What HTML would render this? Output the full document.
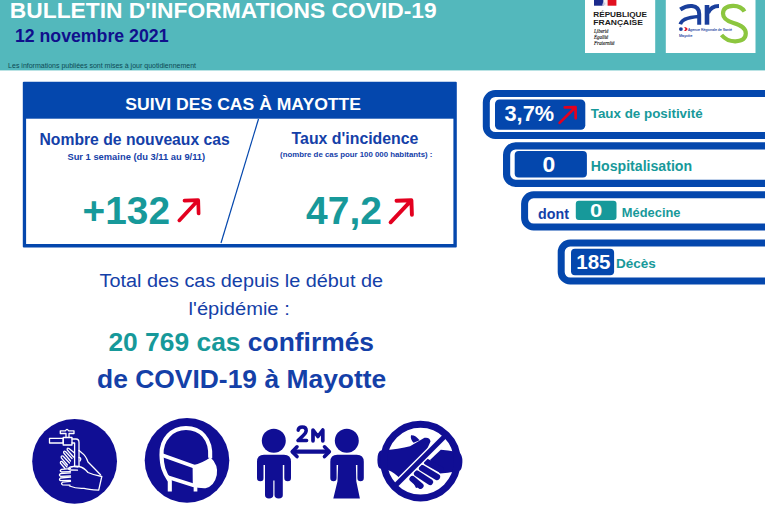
<!DOCTYPE html>
<html><head><meta charset="utf-8">
<style>
html,body{margin:0;padding:0;}
body{width:765px;height:510px;overflow:hidden;background:#fff;position:relative;font-family:"Liberation Sans",sans-serif;}
.abs{position:absolute;white-space:nowrap;line-height:1;}
svg{font-family:"Liberation Sans",sans-serif;}
</style></head><body>
<svg class="abs" style="left:0;top:0" width="765" height="510" viewBox="0 0 765 510">
<rect x="0" y="0" width="765" height="70.4" fill="#53b8bc"/>
<rect x="585" y="0" width="70.2" height="53" fill="#fff"/>
<rect x="665.8" y="0" width="89.7" height="53" fill="#fff"/>
<rect x="22.8" y="81.7" width="434" height="165.7" rx="1" fill="#0447ad"/>
<rect x="26.1" y="118.7" width="427.3" height="125.3" fill="#fff"/>
<g fill="#fff" stroke="#0447ad">
<rect x="486.3" y="93.5" width="300" height="42" rx="9" stroke-width="7"/>
<rect x="506.6" y="145.9" width="300" height="37.4" rx="9" stroke-width="7.2"/>
<rect x="524.6" y="194.8" width="300" height="32.2" rx="9" stroke-width="7"/>
<rect x="561.2" y="243.1" width="300" height="37.9" rx="9" stroke-width="7"/>
</g>
<rect x="495" y="99.4" width="90.3" height="30.3" rx="4.5" fill="#0447ad"/>
<rect x="514.7" y="150.9" width="72.2" height="26.5" rx="4" fill="#0447ad"/>
<rect x="575.8" y="200.7" width="40.7" height="19.2" rx="3" fill="#17999a"/>
<rect x="571" y="248.8" width="43.1" height="26.5" rx="4" fill="#0447ad"/>
<text id="title" x="9.80" y="17.7" font-size="22" textLength="426.85" lengthAdjust="spacingAndGlyphs" fill="#fff" font-weight="bold">BULLETIN D'INFORMATIONS COVID-19</text>
<text id="date" x="14.90" y="42.3" font-size="18" textLength="153.60" lengthAdjust="spacingAndGlyphs" fill="#10108c" font-weight="bold">12 novembre 2021</text>
<text id="note" x="8.10" y="67.6" font-size="6.8" textLength="187.90" lengthAdjust="spacingAndGlyphs" fill="#0d4a55">Les informations publiées sont mises à jour quotidiennement</text>
<text id="suivi" x="125.30" y="109.8" font-size="17" textLength="235.75" lengthAdjust="spacingAndGlyphs" fill="#fff" font-weight="bold">SUIVI DES CAS À MAYOTTE</text>
<text id="nb" x="39.50" y="145.2" font-size="15.6" textLength="190.25" lengthAdjust="spacingAndGlyphs" fill="#1440a8" font-weight="bold">Nombre de nouveaux cas</text>
<text id="sur" x="67.40" y="159.5" font-size="9.1" textLength="137.80" lengthAdjust="spacingAndGlyphs" fill="#1440a8" font-weight="bold">Sur 1 semaine (du 3/11 au 9/11)</text>
<text id="n132" x="82.60" y="223.7" font-size="38.5" textLength="87.45" lengthAdjust="spacingAndGlyphs" fill="#17999a" font-weight="bold">+132</text>
<text id="ti" x="291.60" y="144.4" font-size="15.8" textLength="126.85" lengthAdjust="spacingAndGlyphs" fill="#1440a8" font-weight="bold">Taux d'incidence</text>
<text id="ti2" x="280.10" y="156.9" font-size="7.8" textLength="152.35" lengthAdjust="spacingAndGlyphs" fill="#1440a8" font-weight="bold">(nombre de cas pour 100 000 habitants) :</text>
<text id="n472" x="306.10" y="223.7" font-size="38.5" textLength="75.80" lengthAdjust="spacingAndGlyphs" fill="#17999a" font-weight="bold">47,2</text>
<text id="t37" x="504.50" y="120.8" font-size="21.5" textLength="49.55" lengthAdjust="spacingAndGlyphs" fill="#fff" font-weight="bold">3,7%</text>
<text id="tp" x="590.75" y="117.9" font-size="13" textLength="111.90" lengthAdjust="spacingAndGlyphs" fill="#17999a" font-weight="bold">Taux de positivité</text>
<text id="h0" x="542.40" y="171.7" font-size="21.2" textLength="12.75" lengthAdjust="spacingAndGlyphs" fill="#fff" font-weight="bold">0</text>
<text id="hosp" x="590.85" y="171.1" font-size="14" textLength="101.30" lengthAdjust="spacingAndGlyphs" fill="#17999a" font-weight="bold">Hospitalisation</text>
<text id="dont" x="538.10" y="218.5" font-size="14.6" textLength="30.80" lengthAdjust="spacingAndGlyphs" fill="#1440a8" font-weight="bold">dont</text>
<text id="m0" x="589.95" y="216.8" font-size="18.2" textLength="12.25" lengthAdjust="spacingAndGlyphs" fill="#fff" font-weight="bold">0</text>
<text id="med" x="621.85" y="217.1" font-size="12.7" textLength="58.65" lengthAdjust="spacingAndGlyphs" fill="#17999a" font-weight="bold">Médecine</text>
<text id="d185" x="576.20" y="269.4" font-size="20.4" textLength="34.35" lengthAdjust="spacingAndGlyphs" fill="#fff" font-weight="bold">185</text>
<text id="dec" x="616.00" y="268.4" font-size="13.3" textLength="39.85" lengthAdjust="spacingAndGlyphs" fill="#17999a" font-weight="bold">Décès</text>
<text id="l1" x="99.50" y="287.2" font-size="19.2" textLength="283.50" lengthAdjust="spacingAndGlyphs" fill="#1440a8">Total des cas depuis le début de</text>
<text id="l2" x="188.60" y="314.9" font-size="19.2" textLength="101.15" lengthAdjust="spacingAndGlyphs" fill="#1440a8">l'épidémie :</text>
<text id="l3" x="108.40" y="351.4" font-size="25.7" textLength="265.65" lengthAdjust="spacingAndGlyphs" fill="#1440a8" font-weight="bold"><tspan fill="#17999a">20 769 cas</tspan> confirmés</text>
<text id="l4" x="97.00" y="388.4" font-size="25.7" textLength="289.30" lengthAdjust="spacingAndGlyphs" fill="#1440a8" font-weight="bold">de COVID-19 à Mayotte</text>
<line x1="258.5" y1="119" x2="221" y2="243" stroke="#0447ad" stroke-width="1.2"/>
<!-- red arrows -->
<g fill="none" stroke="#e3001f" stroke-linecap="round" stroke-linejoin="round">
<path d="M179.3 220.4 L197.6 200.8 M184.5 200.6 L198.2 200.2 L198.6 213.5" stroke-width="3.7"/>
<path d="M390.6 222.3 L410.8 200.8 M396.5 200.8 L411.4 200.3 L411.9 214.7" stroke-width="3.9"/>
<path d="M559.6 122.9 L575 107.7 M564.8 107.4 L575.5 107.1 L575.7 118.3" stroke-width="2.7"/>
</g>
<!-- icon 1: hand wash -->
<g id="ic1">
<circle cx="74.6" cy="461.3" r="42.4" fill="#100e94"/>
<g fill="none" stroke="#fff" stroke-width="1.3" stroke-linejoin="round" stroke-linecap="round">
<path d="M49.5 438.4 H63.2 V443 H49.5 Z"/>
<path d="M63.2 437.5 H72 V445 H63.2 Z"/>
<path d="M66 437.5 V433.5 H60.3 V430.8 H65.5 Q67 428 68.5 430.8 H74 V433.5 H69 V437.5"/>
<path d="M72 439 H76 Q79 439 79 442.5 V466 M72 443 H74.6 V466"/>
<!-- upper hand -->
<path d="M74.5 453 L69 448.5 Q66.5 447.5 67.3 450 L73.5 457"/>
<path d="M72 458.5 L65.5 451.5 Q63 450.5 63.8 453 L70.5 461"/>
<path d="M69.5 463 L63 456 Q60.7 455.3 61.3 457.8 L67.5 465"/>
<path d="M67 467 L62 461.5 Q60 461 60.5 463.3 L65 468.5"/>
<path d="M79 450.5 L82 453 Q86 456 88 462 Q94 468 100.5 474.7"/>
<path d="M79 457.5 Q82 458 80 461"/>
<!-- lower hand -->
<path d="M71 466.8 Q75 465.8 79 466.5 Q84 467.5 88 472.5 Q94 475.3 101.8 476.5 L98.7 490.2 Q88 489.3 84 488.3 Q76 488.8 69.5 486"/>
<path d="M78 467 Q72 466.3 69.5 467.3 Q67.5 469 70 470 L77.5 470.2"/>
<path d="M70.5 468.6 L61.5 469.3 Q59 470.6 61.5 472 L70.5 471.6"/>
<path d="M70.5 472.8 L60.5 473.6 Q58.3 475 60.5 476.3 L70.5 476"/>
<path d="M70.5 477.2 L60.5 478 Q58.5 479.4 60.5 480.7 L70.5 480.3"/>
<path d="M70.5 481.4 L62.5 482.2 Q60.6 483.5 62.5 484.8 L70 485.2"/>
</g>
</g>
<!-- icon 2: mask -->
<g id="ic2">
<circle cx="187" cy="460.4" r="42.3" fill="#100e94"/>
<g fill="none" stroke="#fff" stroke-width="4.1" stroke-linejoin="round">
<path d="M210.2 458 C211.6 438 200 428 186 428 C172 428 161 439 161.5 455 C161.8 466 163.5 472 169.8 481 V491.6"/>
<path d="M161.8 455 L194 466.5 M166.5 476.8 L194 485.6 M195.5 484 V491.6" stroke-width="3.7"/>
</g>
<path d="M192.6 465.3 Q203 463 210.5 457.3 Q218.5 465 216.8 475 Q214.5 486 205.5 488.3 Q198 488.5 192.8 486.5 Z" fill="#fff"/>
</g>
<!-- icon 3: distance -->
<g id="ic3" fill="#100e94">
<circle cx="273.8" cy="440.7" r="12"/>
<path d="M264 454.7 H284 Q291 454.7 291 461.7 V478 Q291 481.3 287.7 481.3 Q284.3 481.3 284.3 478 V465 H282.8 V495 Q283 498.4 278.7 498.4 Q274.5 498.4 274.5 495 V480.5 H273.3 V495 Q273.3 498.4 269 498.4 Q265 498.4 265 495 V465 H263.5 V478 Q263.7 481.3 260.4 481.3 Q257 481.3 257 478 V461.7 Q257 454.7 264 454.7 Z"/>
<circle cx="346.8" cy="440.7" r="12"/>
<path d="M337.3 454.7 H356.7 Q363.8 454.7 363.8 461.7 V478 Q363.8 481.3 360.5 481.3 Q357.4 481.3 357.4 478 V465 H355.9 L356.3 481.3 L359.9 498.4 H333.3 L337.5 481.3 L338.1 465 H336.6 V478 Q336.6 481.3 333.5 481.3 Q330.3 481.3 330.3 478 V461.7 Q330.3 454.7 337.3 454.7 Z"/>
<g fill="none" stroke="#100e94" stroke-linecap="round" stroke-linejoin="round">
<path d="M293 451.7 H328.5" stroke-width="4.2"/>
<path d="M297 446.8 L292.2 451.7 L297 456.6 M324.5 446.8 L329.3 451.7 L324.5 456.6" stroke-width="3.6"/>
<path d="M298.2 430.2 Q298.5 427 302.2 427 Q306.2 427 306.2 430.6 Q306.2 433 303 435.8 L298 440.6 H306.6" stroke-width="3.5"/>
<path d="M313 440.8 V430 L317.9 436.5 L322.8 430 V440.8" stroke-width="3.7"/>
</g>
</g>
<!-- icon 4: no handshake -->
<g id="ic4">
<!-- left hand -->
<path d="M381 450.6 Q377.4 452 377.4 460 Q377.4 467 380 468.6 L388.3 470.2 Q394 472 401 479.5 L424 456 L430.5 441.5 Q430 437 424.5 437.8 L410 446.3 Q400 449 381 450.6 Z" fill="#100e94"/>
<path d="M411 435.2 Q415.5 434.8 419.6 440.3 L413.6 442.8 Q410 439 411 435.2 Z" fill="#100e94"/>
<!-- right hand -->
<path d="M430 460 L440.8 449.8 L448 450.6 L459 452.3 Q462.6 455 462.4 462 Q462 469 460 470.6 L448 472.8 L440 473.5 Z" fill="#100e94"/>
<g stroke="#100e94" stroke-width="6.2" stroke-linecap="round" fill="none">
<path d="M427 462 L440.8 469.8"/>
<path d="M422 468 L437 477"/>
<path d="M417 473.5 L430 482"/>
<path d="M412.5 479 L420.5 485.8"/>
</g>
<path d="M412 480 L416 488 L421 486.5 Z" fill="#100e94"/>
<!-- slash -->
<path d="M393.5 487.5 L447 434" stroke="#fff" stroke-width="7.8"/>
<circle cx="420.5" cy="461.1" r="36.8" fill="none" stroke="#100e94" stroke-width="7"/>
<path d="M393 488 L447.5 433.5" stroke="#100e94" stroke-width="5"/>
</g>
<!-- RF logo -->
<g id="rflogo">
<rect x="594" y="0" width="9.6" height="5.7" fill="#1b2a8c"/>
<rect x="603.6" y="0" width="4" height="5.7" fill="#f4f0f0"/>
<path d="M603 2.5 Q605 1.5 605.5 4 L603.6 5.7 H602 Z" fill="#c9c9e0"/>
<rect x="607.6" y="0" width="8.8" height="5.7" fill="#e1101f"/>
<g font-family="Liberation Sans, sans-serif" font-weight="bold" font-size="7.9" fill="#1a1a1a">
<text x="593.3" y="16.5" textLength="53.6" lengthAdjust="spacingAndGlyphs">RÉPUBLIQUE</text>
<text x="593.3" y="25.3" textLength="49.6" lengthAdjust="spacingAndGlyphs">FRANÇAISE</text>
</g>
<g font-family="Liberation Serif, serif" font-style="italic" font-size="5.2" fill="#111" stroke="#111" stroke-width="0.12">
<text x="594" y="33.4" textLength="14.4" lengthAdjust="spacingAndGlyphs">Liberté</text>
<text x="594" y="39" textLength="14.2" lengthAdjust="spacingAndGlyphs">Égalité</text>
<text x="594" y="44.8" textLength="20.6" lengthAdjust="spacingAndGlyphs">Fraternité</text>
</g>
</g>
<!-- ARS logo -->
<g id="arslogo" fill="none" stroke-linecap="butt">
<path d="M680.3 9.5 Q686 5.5 692 6 Q699.2 6.8 699.2 14 V24.7" stroke="#1a3f9c" stroke-width="4"/>
<path d="M699.2 16.5 Q690 17 684.5 19.5 Q681 21.5 680.3 24.3" stroke="#1a3f9c" stroke-width="3.6"/>
<path d="M707 5 V24.7" stroke="#1a3f9c" stroke-width="4.6"/>
<path d="M708 13 Q711 6 719 6" stroke="#1a3f9c" stroke-width="4"/>
<path d="M744.5 11.5 Q741 5.6 733 5.8 Q723 6.3 723 13.5 Q723 20 733.5 23 Q746 26.5 745.8 33.5 Q745.5 41 735.5 41.3 Q727 41.5 721.5 35" stroke="#8cc63f" stroke-width="4.2"/>
<circle cx="680.9" cy="29.1" r="1.9" fill="#1a3f9c" stroke="none"/>
<path d="M684 27.2 H686 L687.8 29.1 L686 31 H684 L685.6 29.1 Z" fill="#e1101f" stroke="none"/>
<g font-family="Liberation Sans, sans-serif" fill="#1f45a3" stroke="#1f45a3" stroke-width="0.1">
<text x="688" y="30.8" font-size="4.3" textLength="44" lengthAdjust="spacingAndGlyphs">Agence Régionale de Santé</text>
<text x="679" y="37" font-size="3.8" textLength="13.2" lengthAdjust="spacingAndGlyphs">Mayotte</text>
</g>
</g>

</svg>
</body></html>
